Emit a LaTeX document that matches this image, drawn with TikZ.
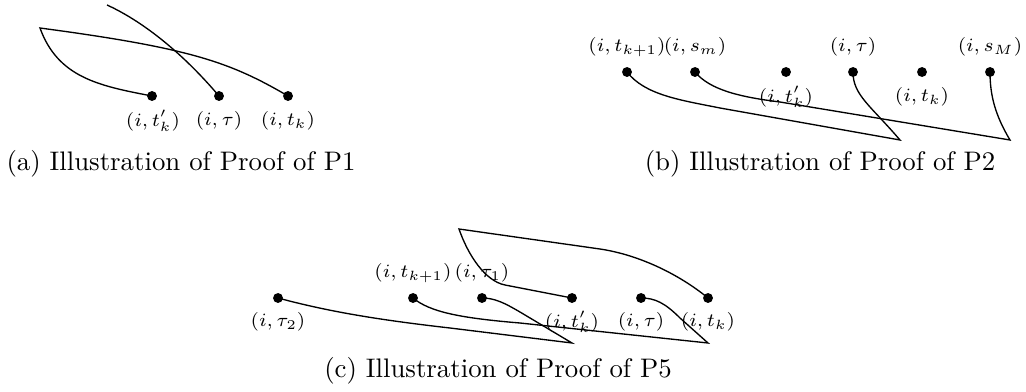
\documentclass[tikz,border=0pt]{standalone}
\begin{document}
\begin{tikzpicture}[x=0.373pt,y=-0.373pt,
  dot/.style={circle,fill=black,inner sep=0pt,minimum size=3.7pt},
  lbl/.style={font=\scriptsize,inner sep=0pt},
  captext/.style={font=\normalsize,inner sep=0pt},
  edge/.style={draw=black,line width=0.5pt}]
\useasboundingbox (0,0) rectangle (1026,392);
% ---------- (a)
\node[dot] (a1) at (152,96) {};
\node[dot] (a2) at (219,96) {};
\node[dot] (a3) at (288,96) {};
\node[lbl] (la1) at (153,121) {$(i,t'_k)$};
\node[lbl] (la2) at (219,121) {$(i,\tau)$};
\node[lbl] (la3) at (288,121) {$(i,t_k)$};
\coordinate (ca) at (40,28);
\coordinate (ta) at (107,5);
\draw[edge] (a1.center) .. controls (100,86) and (58,78) .. (ca)
  .. controls (190,48) and (230,62) .. (a3.center);
\draw[edge] (ta) .. controls (140,20) and (180,50) .. (a2.center);
\node[captext] (capa) at (181,164) {(a) Illustration of Proof of P1};
% ---------- (b)
\node[dot] (b1) at (627,72) {};
\node[dot] (b2) at (695,72) {};
\node[dot] (b3) at (786,72) {};
\node[dot] (b4) at (853,72) {};
\node[dot] (b5) at (922,72) {};
\node[dot] (b6) at (990,72) {};
\node[lbl] (lb1) at (627,47) {$(i,t_{k+1})$};
\node[lbl] (lb2) at (695,47) {$(i,s_m)$};
\node[lbl] (lb3) at (786,97) {$(i,t'_k)$};
\node[lbl] (lb4) at (853,47) {$(i,\tau)$};
\node[lbl] (lb5) at (922,97) {$(i,t_k)$};
\node[lbl] (lb6) at (990,47) {$(i,s_M)$};
\coordinate (pb1) at (900,140);
\coordinate (pb2) at (1010,140);
\draw[edge] (b1.center) .. controls (645,95) and (680,100) .. (720,108) -- (pb1)
  .. controls (870,105) and (853,95) .. (b4.center);
\draw[edge] (b2.center) .. controls (710,90) and (740,97) .. (780,102) -- (pb2)
  .. controls (995,115) and (990,95) .. (b6.center);
\node[captext] (capb) at (820,164) {(b) Illustration of Proof of P2};
% ---------- (c)
\node[dot] (c1) at (278,298) {};
\node[dot] (c2) at (413,298) {};
\node[dot] (c3) at (482,298) {};
\node[dot] (c4) at (572,298) {};
\node[dot] (c5) at (641,298) {};
\node[dot] (c6) at (708,298) {};
\node[lbl] (lc1) at (278,322) {$(i,\tau_2)$};
\node[lbl] (lc2) at (413,273) {$(i,t_{k+1})$};
\node[lbl] (lc3) at (482,273) {$(i,\tau_1)$};
\node[lbl] (lc4) at (572,322) {$(i,t'_k)$};
\node[lbl] (lc5) at (641,322) {$(i,\tau)$};
\node[lbl] (lc6) at (708,322) {$(i,t_k)$};
\coordinate (pc1) at (572,343);
\coordinate (pc2) at (708,343);
\coordinate (cc) at (459,229);
\draw[edge] (c1.center) .. controls (330,312) and (380,320) .. (450,328) -- (pc1)
  -- (525,315) .. controls (505,303) and (495,298) .. (c3.center);
\draw[edge] (c2.center) .. controls (430,312) and (460,318) .. (520,323) -- (pc2)
  -- (680,318) .. controls (665,303) and (655,298) .. (c5.center);
\draw[edge] (c4.center) -- (505,285) .. controls (485,281) and (468,255) .. (cc)
  -- (600,249) .. controls (640,255) and (680,275) .. (c6.center);
\node[captext] (capc) at (498,371) {(c) Illustration of Proof of P5};
\end{tikzpicture}
\end{document}
